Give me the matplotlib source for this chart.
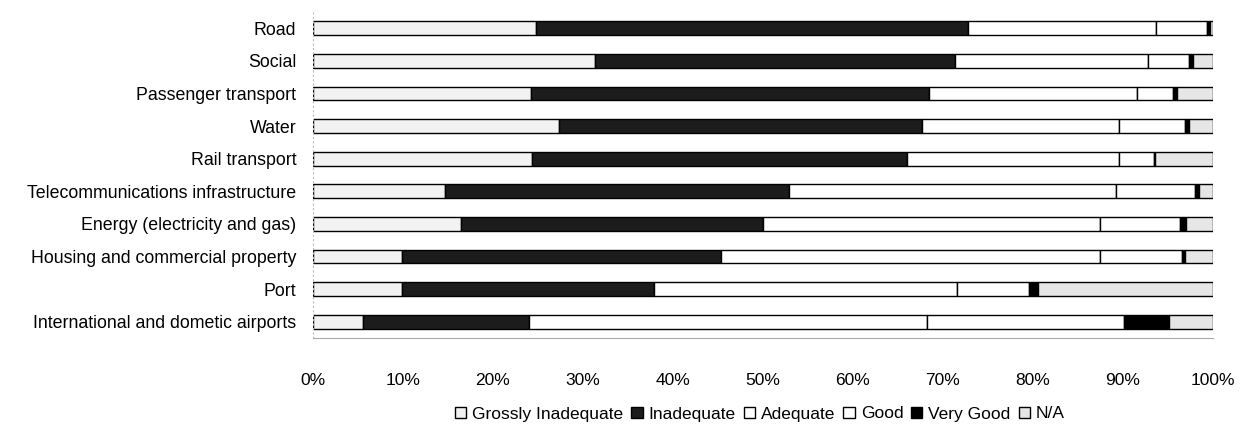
import numpy as np
import matplotlib.pyplot as plt

plt.rcParams['font.family'] = ['Liberation Sans', 'DejaVu Sans']

# categories top to bottom
sectors = ['Road', 'Social', 'Passenger transport', 'Water', 'Rail transport',
           'Telecommunications infrastructure', 'Energy (electricity and gas)',
           'Housing and commercial property', 'Port', 'International and dometic airports']

# percent of responses per rating
grossly_inadequate = [24.8, 31.3, 24.2, 27.3, 24.3, 14.7, 16.4, 9.9, 9.9, 5.6]
inadequate = [48.0, 40.0, 44.2, 40.4, 41.7, 38.2, 33.6, 35.4, 28.0, 18.4]
adequate = [20.9, 21.5, 23.1, 21.9, 23.6, 36.3, 37.4, 42.1, 33.7, 44.2]
good = [5.6, 4.5, 4.0, 7.3, 3.8, 8.8, 8.9, 9.2, 8.0, 21.9]
very_good = [0.4, 0.5, 0.5, 0.4, 0.2, 0.4, 0.7, 0.3, 1.0, 5.0]
not_applicable = [0.3, 2.2, 4.0, 2.7, 6.4, 1.6, 3.0, 3.1, 19.4, 4.9]

ratings = ['Grossly Inadequate', 'Inadequate', 'Adequate', 'Good', 'Very Good', 'N/A']
series = [grossly_inadequate, inadequate, adequate, good, very_good, not_applicable]
colors = ['#f2f2f2', '#1c1c1c', 'white', 'white', 'black', '#e6e6e6']

fig = plt.figure(figsize=(12.43, 4.25), dpi=100)
ax = fig.add_axes([313 / 1243, 1 - 338 / 425, 900 / 1243, 326 / 425])

y = np.arange(len(sectors))
left = np.zeros(len(sectors))
for name, vals, c in zip(ratings, series, colors):
    vals = np.array(vals)
    ax.barh(y, vals, left=left, height=0.42, color=c, edgecolor='black',
            linewidth=1.0, label=name)
    left += vals

ax.set_xlim(0, 100)
ax.set_ylim(len(sectors) - 0.5, -0.5)
ax.set_yticks(y)
ax.set_yticklabels(sectors, fontsize=12.8)
ax.set_xticks(np.arange(0, 101, 10))
ax.set_xticklabels([f'{v}%' for v in range(0, 101, 10)], fontsize=12.5)
ax.tick_params(axis='y', length=0, pad=12)
ax.tick_params(axis='x', length=0, pad=25)

for s in ['top', 'right']:
    ax.spines[s].set_visible(False)
ax.spines['left'].set_color('#bbbbbb')
ax.spines['left'].set_linestyle((0, (1, 3)))
ax.spines['bottom'].set_color('#aaaaaa')

leg = fig.legend(loc='center', bbox_to_anchor=(760 / 1243, 1 - 414 / 425), ncol=6,
                 frameon=False, fontsize=12.5, handlelength=0.65, handleheight=0.65,
                 handletextpad=0.35, columnspacing=0.45)

fig.savefig('out.png', dpi=100)
